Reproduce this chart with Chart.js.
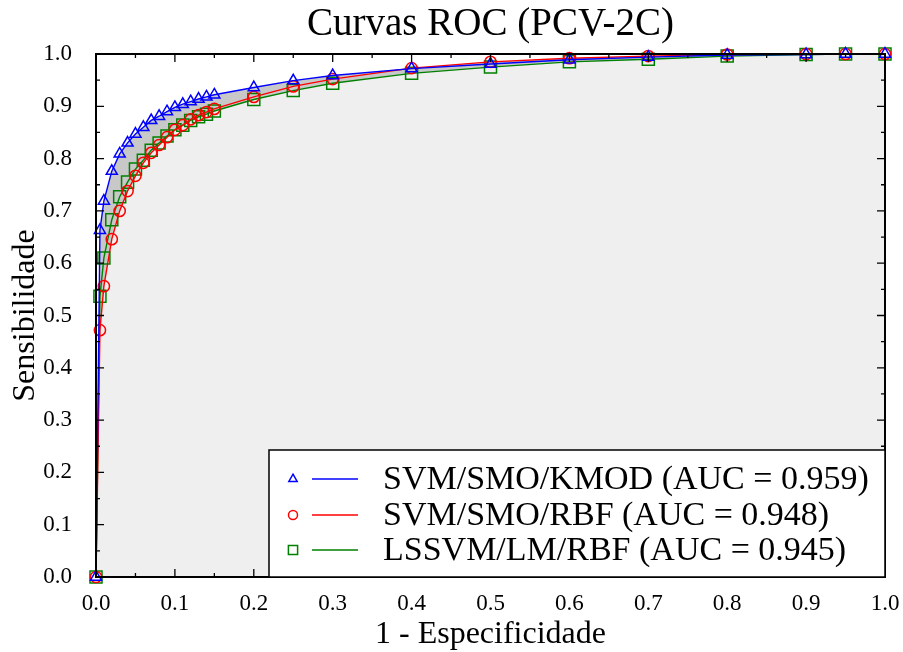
<!DOCTYPE html>
<html><head><meta charset="utf-8">
<script src="https://cdn.jsdelivr.net/npm/chart.js@4/dist/chart.umd.min.js"></script>
<style>html,body{margin:0;padding:0;background:#fff}#wrap{width:903px;height:652px}</style>
</head><body><div id="wrap"><canvas id="c" width="903" height="652"></canvas></div>
<script>
// ---- data ----
const fpr = [0, 0.005, 0.01, 0.02, 0.03, 0.04, 0.05, 0.06, 0.07, 0.08, 0.09, 0.10, 0.11, 0.12, 0.13, 0.14, 0.15, 0.2, 0.25, 0.3, 0.4, 0.5, 0.6, 0.7, 0.8, 0.9, 0.95, 1.0];
const tprKMOD  = [0, 0.663, 0.719, 0.776, 0.809, 0.830, 0.847, 0.860, 0.873, 0.881, 0.890, 0.898, 0.904, 0.909, 0.914, 0.918, 0.922, 0.936, 0.949, 0.959, 0.972, 0.981, 0.989, 0.994, 0.998, 0.999, 1.0, 1.0];
const tprRBF   = [0, 0.472, 0.556, 0.646, 0.700, 0.738, 0.767, 0.792, 0.811, 0.826, 0.841, 0.855, 0.864, 0.875, 0.883, 0.889, 0.895, 0.918, 0.938, 0.952, 0.973, 0.985, 0.992, 0.996, 0.999, 1.0, 1.0, 1.0];
const tprLSSVM = [0, 0.537, 0.610, 0.683, 0.727, 0.755, 0.780, 0.797, 0.816, 0.830, 0.843, 0.855, 0.864, 0.873, 0.880, 0.885, 0.891, 0.913, 0.930, 0.944, 0.963, 0.975, 0.985, 0.990, 0.996, 0.999, 1.0, 1.0];
const seriesNames = ['SVM/SMO/KMOD (AUC = 0.959)', 'SVM/SMO/RBF (AUC = 0.948)', 'LSSVM/LM/RBF (AUC = 0.945)'];
const titleText = 'Curvas ROC (PCV-2C)';
const xTitle = '1 - Especificidade';
const yTitle = 'Sensibilidade';

const FONT = '"Liberation Serif", "Times New Roman", serif';
const colors = ['#0000ff', '#ff0000', '#008000'];
const styles = ['triangle', 'circle', 'rect'];
const radii = [6.4, 5.6, 8.5];

const toPts = ys => fpr.map((x, i) => ({x: x, y: ys[i]}));
const series = [tprKMOD, tprRBF, tprLSSVM];
const upper = fpr.map((x, i) => ({x: x, y: Math.max(...series.map(s => s[i]))}));
const lower = fpr.map((x, i) => ({x: x, y: Math.min(...series.map(s => s[i]))}));

const datasets = [
  {data: upper, fill: 1, backgroundColor: '#c8c8c8', borderColor: 'transparent', borderWidth: 0, pointRadius: 0, showLine: true},
  {data: lower, fill: 'origin', backgroundColor: '#efefef', borderColor: 'transparent', borderWidth: 0, pointRadius: 0, showLine: true}
];
series.forEach((s, k) => datasets.push({
  label: seriesNames[k], data: toPts(s), showLine: true, fill: false,
  borderColor: colors[k], borderWidth: 1.4, tension: 0,
  pointStyle: styles[k], pointRadius: radii[k], pointBorderColor: colors[k],
  pointBackgroundColor: 'transparent', pointBorderWidth: 1.5, clip: false
}));

const frame = {
  id: 'frame',
  afterDatasetsDraw(chart) {
    const ctx = chart.ctx, a = chart.chartArea, xs = chart.scales.x, ys = chart.scales.y;
    ctx.save();
    ctx.strokeStyle = '#000'; ctx.lineWidth = 1.3;
    for (let i = 0; i <= 20; i++) {
      const v = i / 20, len = (i % 2 === 0) ? 8 : 4;
      const px = xs.getPixelForValue(v), py = ys.getPixelForValue(v);
      ctx.beginPath();
      ctx.moveTo(px, a.bottom); ctx.lineTo(px, a.bottom - len);
      ctx.moveTo(px, a.top); ctx.lineTo(px, a.top + len);
      ctx.moveTo(a.left, py); ctx.lineTo(a.left + len, py);
      ctx.moveTo(a.right, py); ctx.lineTo(a.right - len, py);
      ctx.stroke();
    }
    ctx.lineWidth = 2;
    ctx.strokeRect(a.left, a.top, a.right - a.left, a.bottom - a.top);
    ctx.restore();
  },
  afterDraw(chart) {
    const ctx = chart.ctx, a = chart.chartArea;
    ctx.save();
    // title
    ctx.fillStyle = '#000';
    ctx.font = '39px ' + FONT;
    ctx.textAlign = 'center'; ctx.textBaseline = 'middle';
    ctx.fillText(titleText, (a.left + a.right) / 2, 25);
    // legend
    const bw = 616, bh = 127, bx = a.right - bw, by = a.bottom - bh;
    ctx.fillStyle = '#fff';
    ctx.fillRect(bx, by, bw, bh);
    ctx.strokeStyle = '#000'; ctx.lineWidth = 1.5;
    ctx.strokeRect(bx, by, bw, bh);
    const rows = [29, 65, 100];
    seriesNames.forEach((name, k) => {
      const cy = by + rows[k];
      ctx.strokeStyle = colors[k]; ctx.fillStyle = 'rgba(0,0,0,0)'; ctx.lineWidth = 1.5;
      Chart.helpers.drawPoint(ctx, {pointStyle: styles[k], radius: [4.8, 4.5, 6.5][k], borderWidth: 1.5, rotation: 0}, bx + 24, cy);
      ctx.strokeStyle = colors[k]; ctx.lineWidth = 1.5;
      ctx.beginPath(); ctx.moveTo(bx + 43, cy); ctx.lineTo(bx + 89, cy); ctx.stroke();
      ctx.fillStyle = '#000';
      ctx.font = '34px ' + FONT;
      ctx.textAlign = 'left'; ctx.textBaseline = 'middle';
      ctx.fillText(name, bx + 114, cy + 1);
    });
    ctx.restore();
  }
};

new Chart(document.getElementById('c'), {
  type: 'scatter',
  data: {datasets},
  options: {
    responsive: false, animation: false, devicePixelRatio: 1,
    layout: {padding: {top: 54, right: 18, left: 0, bottom: 0}},
    plugins: {legend: {display: false}, tooltip: {enabled: false}, title: {display: false},
      filler: {drawTime: 'beforeDatasetsDraw', propagate: false}},
    scales: {
      x: {type: 'linear', min: 0, max: 1,
        afterFit: s => { s.height = 75; s.paddingLeft = 0; s.paddingRight = 0; },
        grid: {display: false}, border: {display: false},
        ticks: {stepSize: 0.1, autoSkip: false, maxRotation: 0, padding: 5, color: '#000',
          font: {family: FONT, size: 23}, callback: v => Number(v).toFixed(1)},
        title: {display: true, text: xTitle, color: '#000', font: {family: FONT, size: 32}, padding: {top: 0, bottom: -2}}},
      y: {type: 'linear', min: 0, max: 1,
        afterFit: s => { s.width = 96; s.paddingTop = 0; s.paddingBottom = 0; },
        grid: {display: false}, border: {display: false},
        ticks: {stepSize: 0.1, autoSkip: false, padding: 16, color: '#000',
          font: {family: FONT, size: 23}, callback: v => Number(v).toFixed(1)},
        title: {display: true, text: yTitle, color: '#000', font: {family: FONT, size: 32}, padding: {top: 6, bottom: 0}}}
    }
  },
  plugins: [frame]
});
</script>
</body></html>
